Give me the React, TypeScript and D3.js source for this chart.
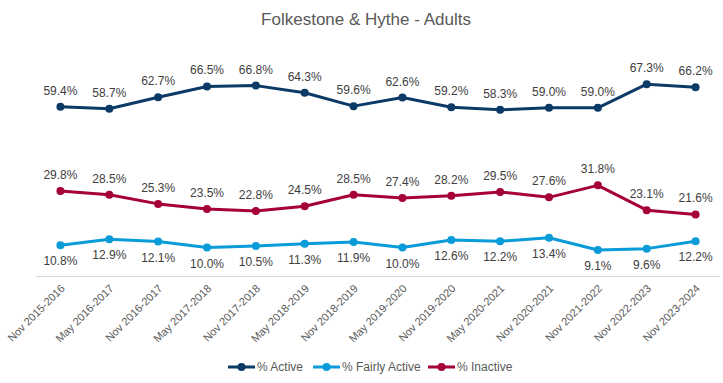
import React from "react";
import * as d3 from "d3";

const categories = [
  "Nov 2015-2016", "May 2016-2017", "Nov 2016-2017", "May 2017-2018", "Nov 2017-2018",
  "May 2018-2019", "Nov 2018-2019", "May 2019-2020", "Nov 2019-2020", "May 2020-2021",
  "Nov 2020-2021", "Nov 2021-2022", "Nov 2022-2023", "Nov 2023-2024",
];
const active = [59.4, 58.7, 62.7, 66.5, 66.8, 64.3, 59.6, 62.6, 59.2, 58.3, 59.0, 59.0, 67.3, 66.2];
const fairlyActive = [10.8, 12.9, 12.1, 10.0, 10.5, 11.3, 11.9, 10.0, 12.6, 12.2, 13.4, 9.1, 9.6, 12.2];
const inactive = [29.8, 28.5, 25.3, 23.5, 22.8, 24.5, 28.5, 27.4, 28.2, 29.5, 27.6, 31.8, 23.1, 21.6];

const series = [
  { name: "% Active", values: active, color: "#0B3A66", labelPos: "above" },
  { name: "% Fairly Active", values: fairlyActive, color: "#0A9BD9", labelPos: "below" },
  { name: "% Inactive", values: inactive, color: "#A6003A", labelPos: "above" },
];

const W = 723, H = 383;
const FONT = "'Liberation Sans', Arial, sans-serif";

export default function App() {
  const x = d3.scaleBand<string>().domain(categories).range([36, 720]);
  const y = d3.scaleLinear().domain([0, 80]).range([276, 48]);
  const line = d3.line<number>()
    .x((_, i) => (x(categories[i]) as number) + x.bandwidth() / 2)
    .y((d) => y(d));

  const legendItems = [
    { x: 228, ...series[0] },
    { x: 313, ...series[1] },
    { x: 428, ...series[2] },
  ];

  return (
    <svg width={W} height={H} style={{ position: "absolute", left: 0, top: 0, background: "#fff" }}>
      <text x={366} y={25} textAnchor="middle" fontFamily={FONT} fontSize={17} fill="#595959">
        Folkestone &amp; Hythe - Adults
      </text>
      <line x1={36} x2={720} y1={276.5} y2={276.5} stroke="#D9D9D9" strokeWidth={1} />
      {categories.map((c) => {
        const cx = (x(c) as number) + x.bandwidth() / 2;
        return (
          <text key={c} transform={`translate(${cx + 3},${287}) rotate(-45)`} textAnchor="end"
            fontFamily={FONT} fontSize={11} fill="#595959" dominantBaseline="middle">
            {c}
          </text>
        );
      })}
      {series.map((s) => (
        <g key={s.name}>
          <path d={line(s.values) || ""} fill="none" stroke={s.color} strokeWidth={3} strokeLinejoin="round" />
          {s.values.map((v, i) => {
            const cx = (x(categories[i]) as number) + x.bandwidth() / 2;
            return <circle key={i} cx={cx} cy={y(v)} r={4} fill={s.color} />;
          })}
          {s.values.map((v, i) => {
            const cx = (x(categories[i]) as number) + x.bandwidth() / 2;
            const ly = s.labelPos === "above" ? y(v) - 12 : y(v) + 20;
            return (
              <text key={"l" + i} x={cx} y={ly} textAnchor="middle" fontFamily={FONT}
                fontSize={12} fill="#404040">
                {v.toFixed(1)}%
              </text>
            );
          })}
        </g>
      ))}
      {legendItems.map((l) => (
        <g key={l.name}>
          <line x1={l.x} x2={l.x + 27} y1={367} y2={367} stroke={l.color} strokeWidth={3} />
          <circle cx={l.x + 13.5} cy={367} r={4} fill={l.color} />
          <text x={l.x + 29} y={371} fontFamily={FONT} fontSize={12} fill="#595959">{l.name}</text>
        </g>
      ))}
    </svg>
  );
}
